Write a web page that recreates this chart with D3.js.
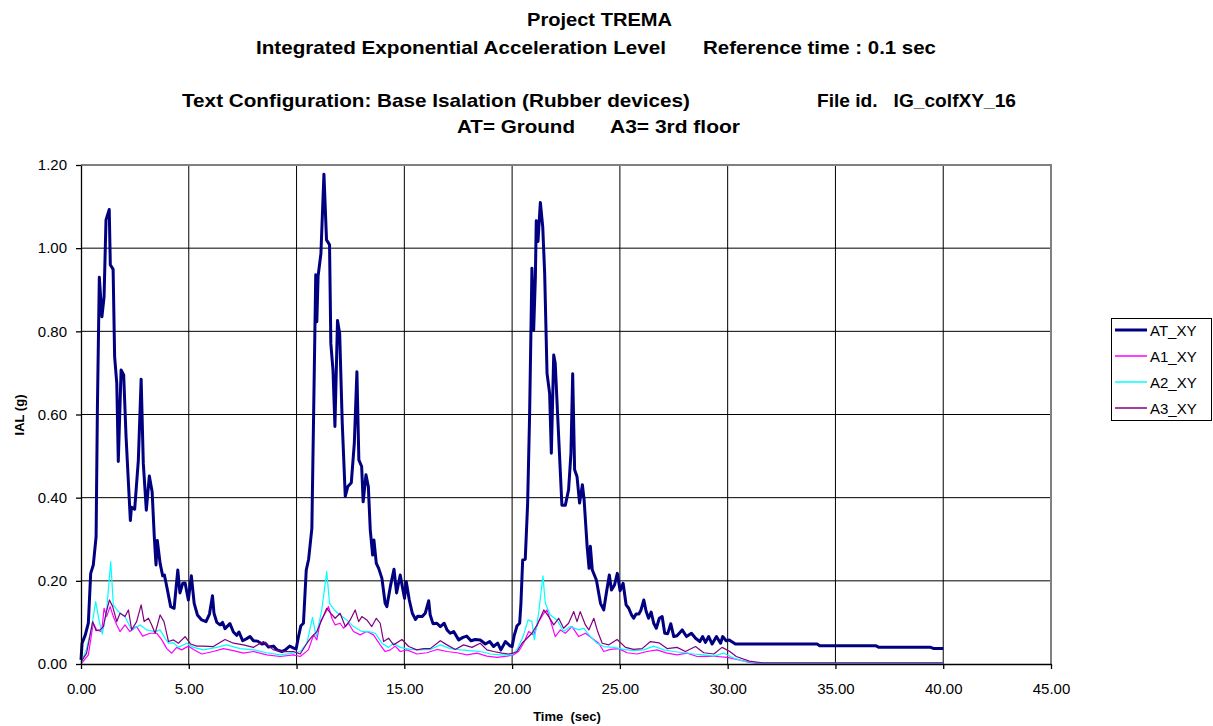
<!DOCTYPE html>
<html>
<head>
<meta charset="utf-8">
<script src="https://cdn.jsdelivr.net/npm/d3@7"></script>
<style>
  body { margin: 0; background: #fff; }
  svg { font-family: 'Liberation Sans', Arial, sans-serif; }
  .title { font-size: 19px; font-weight: bold; }
  .axis text { font-size: 15px; fill: #000; }
  .axis-title { font-size: 13px; font-weight: bold; }
  .legend text { font-size: 15px; }
</style>
</head>
<body>
<svg id="chart" width="1213" height="726"></svg>
<script>
// IAL values [time (sec), IAL (g)]
const atXY = [
	[0, 0.01], [0.05, 0.05], [0.2, 0.07], [0.34, 0.098], [0.45, 0.218], [0.57, 0.238], [0.7, 0.306], [0.76, 0.61],
	[0.85, 0.93], [0.97, 0.835], [1.07, 0.883], [1.16, 1.068], [1.31, 1.093], [1.36, 0.96], [1.49, 0.949], [1.56, 0.739],
	[1.66, 0.675], [1.73, 0.487], [1.86, 0.707], [1.98, 0.695], [2.09, 0.547], [2.29, 0.345], [2.34, 0.377], [2.49, 0.372],
	[2.66, 0.49], [2.79, 0.685], [2.89, 0.483], [3.03, 0.37], [3.17, 0.452], [3.3, 0.414], [3.4, 0.306], [3.48, 0.238],
	[3.54, 0.297], [3.67, 0.242], [3.79, 0.212], [3.87, 0.214], [4.01, 0.178], [4.16, 0.138], [4.32, 0.134], [4.49, 0.226],
	[4.59, 0.171], [4.72, 0.194], [4.83, 0.195], [4.98, 0.154], [5.12, 0.212], [5.25, 0.146], [5.4, 0.118], [5.6, 0.106],
	[5.8, 0.102], [5.96, 0.12], [6.1, 0.164], [6.17, 0.122], [6.3, 0.1], [6.45, 0.094], [6.57, 0.1], [6.68, 0.085],
	[6.91, 0.097], [7.07, 0.077], [7.22, 0.069], [7.33, 0.077], [7.5, 0.056], [7.69, 0.061], [7.84, 0.066], [8.0, 0.056],
	[8.19, 0.055], [8.39, 0.048], [8.55, 0.05], [8.7, 0.041], [8.93, 0.043], [9.09, 0.034], [9.32, 0.03], [9.48, 0.034],
	[9.68, 0.043], [9.87, 0.038], [9.98, 0.036],
	[10.09, 0.066], [10.2, 0.092], [10.32, 0.098], [10.45, 0.226], [10.56, 0.252], [10.71, 0.326], [10.79, 0.595], [10.89, 0.936],
	[10.94, 0.823], [11.0, 0.933], [11.13, 0.987], [11.27, 1.178], [11.39, 1.02], [11.53, 1.008], [11.59, 0.771], [11.69, 0.707],
	[11.78, 0.571], [11.9, 0.826], [12.0, 0.795], [12.12, 0.579], [12.26, 0.403], [12.38, 0.427], [12.54, 0.436], [12.68, 0.531],
	[12.8, 0.703], [12.89, 0.491], [13.02, 0.475], [13.09, 0.39], [13.22, 0.455], [13.33, 0.427], [13.42, 0.322], [13.53, 0.262],
	[13.59, 0.298], [13.7, 0.242], [13.81, 0.23], [13.96, 0.206], [14.11, 0.146], [14.19, 0.138], [14.35, 0.186], [14.52, 0.228],
	[14.64, 0.171], [14.81, 0.214], [14.92, 0.182], [15.01, 0.158], [15.09, 0.198], [15.23, 0.154], [15.37, 0.122], [15.52, 0.107],
	[15.62, 0.115], [15.82, 0.114], [15.97, 0.122], [16.13, 0.152], [16.2, 0.118], [16.33, 0.097], [16.51, 0.098], [16.67, 0.09],
	[16.85, 0.098], [16.98, 0.082], [17.13, 0.074], [17.29, 0.078], [17.52, 0.058], [17.72, 0.064], [17.9, 0.067], [18.09, 0.056],
	[18.29, 0.059], [18.52, 0.058], [18.76, 0.048], [18.96, 0.054], [19.14, 0.042], [19.33, 0.05], [19.48, 0.034], [19.69, 0.054],
	[19.92, 0.043], [20.0, 0.042],
	[20.1, 0.069], [20.23, 0.092], [20.35, 0.098], [20.41, 0.146], [20.49, 0.25], [20.61, 0.252], [20.72, 0.386], [20.81, 0.595],
	[20.92, 0.952], [21.0, 0.803], [21.08, 0.931], [21.12, 1.066], [21.2, 1.016], [21.31, 1.11], [21.42, 1.052], [21.51, 0.94],
	[21.62, 0.699], [21.74, 0.651], [21.82, 0.507], [21.93, 0.743], [22.0, 0.723], [22.13, 0.579], [22.31, 0.382], [22.47, 0.382],
	[22.62, 0.419], [22.73, 0.507], [22.81, 0.698], [22.9, 0.467], [23.01, 0.451], [23.13, 0.387], [23.26, 0.431], [23.34, 0.395],
	[23.48, 0.283], [23.57, 0.23], [23.63, 0.283], [23.72, 0.226], [23.91, 0.202], [24.1, 0.146], [24.25, 0.13], [24.37, 0.17],
	[24.51, 0.214], [24.61, 0.178], [24.75, 0.19], [24.88, 0.218], [25.01, 0.176], [25.15, 0.194], [25.29, 0.142], [25.41, 0.134],
	[25.54, 0.118], [25.64, 0.11], [25.75, 0.12], [25.88, 0.12], [25.98, 0.13], [26.11, 0.154], [26.22, 0.126], [26.33, 0.11],
	[26.45, 0.125], [26.57, 0.098], [26.69, 0.086], [26.83, 0.11], [26.96, 0.114], [27.08, 0.074], [27.22, 0.073], [27.36, 0.097],
	[27.5, 0.066], [27.65, 0.068], [27.89, 0.082], [28.09, 0.066], [28.32, 0.074], [28.51, 0.062], [28.71, 0.054], [28.84, 0.066],
	[28.97, 0.052], [29.12, 0.066], [29.28, 0.048], [29.48, 0.066], [29.67, 0.05], [29.77, 0.066], [29.93, 0.056], [30.07, 0.058],
	[30.36, 0.048], [34.15, 0.048], [34.27, 0.044], [36.86, 0.044], [37.02, 0.04], [39.42, 0.04], [39.57, 0.037], [40.0, 0.037]
];

const a1XY = [
	[0, 0], [0.34, 0.022], [0.57, 0.098], [0.73, 0.082], [0.96, 0.078], [1.07, 0.134], [1.19, 0.114], [1.35, 0.138],
	[1.5, 0.114], [1.66, 0.094], [1.81, 0.078], [2.04, 0.094], [2.27, 0.078], [2.58, 0.09], [2.86, 0.067], [3.2, 0.074],
	[3.51, 0.074], [3.75, 0.058], [3.98, 0.037], [4.21, 0.026], [4.44, 0.04], [4.67, 0.034], [4.98, 0.043], [5.22, 0.035],
	[5.6, 0.024], [6.14, 0.03], [6.6, 0.037], [7.07, 0.032], [7.54, 0.026], [8.0, 0.03], [8.62, 0.022], [9.24, 0.018], [9.86, 0.022],
	[10.17, 0.018], [10.55, 0.034], [10.79, 0.07], [10.94, 0.058], [11.1, 0.102], [11.33, 0.122], [11.48, 0.138], [11.64, 0.11],
	[11.79, 0.094], [12.02, 0.098], [12.18, 0.086], [12.41, 0.098], [12.64, 0.078], [12.95, 0.07], [13.26, 0.078], [13.57, 0.07],
	[13.88, 0.046], [14.11, 0.03], [14.35, 0.034], [14.58, 0.043], [14.81, 0.03], [15.12, 0.034], [15.58, 0.024], [16.05, 0.027],
	[16.51, 0.035], [16.98, 0.03], [17.44, 0.027], [17.91, 0.022], [18.37, 0.026], [18.83, 0.019], [19.3, 0.016], [19.76, 0.019],
	[20.07, 0.022],
	[20.3, 0.03], [20.53, 0.05], [20.77, 0.078], [21.0, 0.07], [21.23, 0.102], [21.47, 0.122], [21.62, 0.13], [21.77, 0.106],
	[22.0, 0.066], [22.24, 0.082], [22.47, 0.074], [22.78, 0.09], [23.09, 0.066], [23.4, 0.074], [23.71, 0.062], [24.02, 0.05],
	[24.25, 0.03], [24.56, 0.035], [24.95, 0.037], [25.33, 0.027], [25.79, 0.024], [26.26, 0.03], [26.72, 0.034], [27.19, 0.026],
	[27.65, 0.022], [28.12, 0.026], [28.58, 0.018], [29.05, 0.019], [29.51, 0.018], [29.98, 0.016], [30.52, 0.01], [31.0, 0.004],
	[31.5, 0.001], [40.0, 0.001]
];

const a2XY = [
	[0, 0], [0.26, 0.037], [0.5, 0.09], [0.68, 0.15], [0.85, 0.102], [0.99, 0.072], [1.19, 0.13], [1.38, 0.246],
	[1.5, 0.142], [1.73, 0.126], [2.04, 0.114], [2.35, 0.082], [2.74, 0.094], [3.05, 0.082], [3.44, 0.078], [3.67, 0.082],
	[3.9, 0.062], [4.06, 0.05], [4.29, 0.051], [4.52, 0.04], [4.91, 0.05], [5.22, 0.04], [5.68, 0.034], [6.3, 0.04],
	[6.76, 0.046], [7.38, 0.037], [8.0, 0.034], [8.62, 0.027], [9.24, 0.022], [9.86, 0.026],
	[10.17, 0.03], [10.48, 0.05], [10.74, 0.112], [10.91, 0.066], [11.17, 0.13], [11.4, 0.222], [11.53, 0.146], [11.75, 0.13],
	[12.02, 0.118], [12.33, 0.106], [12.64, 0.09], [13.03, 0.078], [13.34, 0.078], [13.65, 0.074], [13.96, 0.05], [14.27, 0.04],
	[14.5, 0.05], [14.81, 0.04], [15.27, 0.035], [15.74, 0.034], [16.2, 0.035], [16.67, 0.046], [17.13, 0.037], [17.6, 0.034],
	[18.06, 0.032], [18.52, 0.03], [18.99, 0.024], [19.45, 0.022], [19.99, 0.022],
	[20.23, 0.035], [20.51, 0.066], [20.74, 0.106], [20.92, 0.102], [21.03, 0.058], [21.23, 0.122], [21.43, 0.212], [21.54, 0.146],
	[21.77, 0.118], [22.08, 0.106], [22.39, 0.078], [22.7, 0.09], [23.09, 0.082], [23.32, 0.086], [23.63, 0.066], [23.94, 0.05],
	[24.25, 0.042], [24.71, 0.04], [25.17, 0.035], [25.64, 0.032], [26.1, 0.034], [26.57, 0.043], [27.04, 0.034], [27.5, 0.03],
	[27.96, 0.027], [28.43, 0.024], [28.89, 0.022], [29.36, 0.019], [29.82, 0.026], [30.29, 0.014], [30.8, 0.006], [31.5, 0.002],
	[40.0, 0.002]
];

const a3XY = [
	[0, 0.005], [0.26, 0.026], [0.54, 0.102], [0.7, 0.08], [0.88, 0.082], [1.04, 0.09], [1.16, 0.122], [1.32, 0.154],
	[1.47, 0.138], [1.66, 0.102], [1.81, 0.122], [2.04, 0.114], [2.2, 0.13], [2.35, 0.082], [2.58, 0.102], [2.79, 0.142],
	[2.93, 0.102], [3.13, 0.11], [3.28, 0.094], [3.44, 0.074], [3.67, 0.118], [3.85, 0.102], [4.06, 0.054], [4.29, 0.058],
	[4.52, 0.05], [4.83, 0.066], [5.09, 0.048], [5.37, 0.043], [5.68, 0.043], [6.14, 0.042], [6.68, 0.059], [7.07, 0.05],
	[7.54, 0.046], [8.0, 0.04], [8.46, 0.054], [8.93, 0.034], [9.4, 0.03], [9.86, 0.03],
	[10.17, 0.024], [10.48, 0.05], [10.71, 0.066], [10.94, 0.078], [11.17, 0.106], [11.4, 0.134], [11.59, 0.122], [11.79, 0.11],
	[12.02, 0.122], [12.26, 0.09], [12.49, 0.106], [12.72, 0.13], [12.88, 0.102], [13.03, 0.114], [13.26, 0.106], [13.49, 0.09],
	[13.7, 0.11], [13.88, 0.098], [14.04, 0.054], [14.27, 0.062], [14.5, 0.046], [14.89, 0.059], [15.2, 0.042], [15.58, 0.034],
	[15.89, 0.037], [16.2, 0.037], [16.67, 0.056], [16.98, 0.046], [17.36, 0.035], [17.75, 0.046], [18.14, 0.04], [18.52, 0.05],
	[18.83, 0.034], [19.14, 0.03], [19.53, 0.026], [19.84, 0.024], [20.04, 0.026],
	[20.23, 0.03], [20.46, 0.05], [20.69, 0.062], [20.92, 0.074], [21.16, 0.094], [21.47, 0.13], [21.7, 0.114], [21.93, 0.094],
	[22.16, 0.11], [22.39, 0.086], [22.62, 0.098], [22.86, 0.126], [23.01, 0.102], [23.16, 0.126], [23.4, 0.094], [23.56, 0.082],
	[23.79, 0.11], [23.97, 0.078], [24.18, 0.05], [24.49, 0.046], [24.87, 0.059], [25.26, 0.04], [25.64, 0.035], [26.03, 0.037],
	[26.42, 0.054], [26.81, 0.051], [27.19, 0.037], [27.65, 0.04], [28.04, 0.03], [28.51, 0.042], [28.89, 0.027], [29.36, 0.024],
	[29.74, 0.04], [30.1, 0.03], [30.4, 0.018], [31.0, 0.007], [31.6, 0.003], [40.0, 0.003]
];

const seriesNames = ['AT_XY', 'A1_XY', 'A2_XY', 'A3_XY'];
const seriesData = [atXY, a1XY, a2XY, a3XY];
const xTicks = [0, 5, 10, 15, 20, 25, 30, 35, 40, 45];
const yTicks = [0, 0.2, 0.4, 0.6, 0.8, 1.0, 1.2];

const colors = ['#000080', '#ff00ff', '#00ffff', '#800080'];
const widths = [3, 1.2, 1.2, 1.2];

const svg = d3.select('#chart');

const plotLeft = 81, plotRight = 1051, plotTop = 165, plotBottom = 664;

const x = d3.scaleLinear().domain([0, 45]).range([plotLeft, plotRight]);
const y = d3.scaleLinear().domain([0, 1.2]).range([plotBottom, plotTop]);

// titles (widths, glyphs a bit condensed)
const titles = [
	{ text: 'Project TREMA', x: 527, y: 26, w: 145 },
	{ text: 'Integrated Exponential Acceleration Level', x: 256, y: 54, w: 410 },
	{ text: 'Reference time : 0.1 sec', x: 703, y: 54, w: 233 },
	{ text: 'Text Configuration: Base Isalation (Rubber devices)', x: 182, y: 107, w: 508 },
	{ text: 'File id.\u00a0\u00a0 IG_colfXY_16', x: 817, y: 107, w: 199 },
	{ text: 'AT= Ground', x: 457, y: 133, w: 118 },
	{ text: 'A3= 3rd floor', x: 610, y: 133, w: 130 }
];
svg.selectAll('.title')
	.data(titles)
	.join('text')
	.attr('class', 'title')
	.attr('x', (d) => d.x)
	.attr('y', (d) => d.y)
	.attr('textLength', (d) => d.w)
	.attr('lengthAdjust', 'spacingAndGlyphs')
	.text((d) => d.text);

// grid
svg.append('g')
	.selectAll('line')
	.data(yTicks.slice(1, -1))
	.join('line')
	.attr('x1', plotLeft).attr('x2', plotRight)
	.attr('y1', (d) => y(d)).attr('y2', (d) => y(d))
	.attr('stroke', '#000').attr('stroke-width', 1);

svg.append('g')
	.selectAll('line')
	.data(xTicks.slice(1, -1))
	.join('line')
	.attr('x1', (d) => x(d)).attr('x2', (d) => x(d))
	.attr('y1', plotTop).attr('y2', plotBottom)
	.attr('stroke', '#000').attr('stroke-width', 1);

// plot border top / right (gray)
svg.append('path')
	.attr('d', `M${plotLeft},${plotTop}H${plotRight}V${plotBottom}`)
	.attr('fill', 'none')
	.attr('stroke', '#808080')
	.attr('stroke-width', 2);

// series
const line = d3.line().x((d) => x(d[0])).y((d) => y(d[1]));
svg.append('g')
	.selectAll('path')
	.data(seriesData)
	.join('path')
	.attr('d', line)
	.attr('fill', 'none')
	.attr('stroke', (d, i) => colors[i])
	.attr('stroke-width', (d, i) => widths[i])
	.attr('stroke-linejoin', 'round');

// axes
svg.append('g')
	.attr('class', 'axis')
	.attr('transform', `translate(0,${plotBottom})`)
	.call(d3.axisBottom(x).tickValues(xTicks).tickFormat(d3.format('.2f')).tickSize(5).tickSizeOuter(0).tickPadding(14));

svg.append('g')
	.attr('class', 'axis')
	.attr('transform', `translate(${plotLeft},0)`)
	.call(d3.axisLeft(y).tickValues(yTicks).tickFormat(d3.format('.2f')).tickSize(5).tickSizeOuter(0).tickPadding(9));

svg.selectAll('.axis path, .axis line').attr('stroke', '#000').attr('stroke-width', 1.3);

// axis titles
svg.append('text')
	.attr('class', 'axis-title')
	.attr('x', 567)
	.attr('y', 721)
	.attr('text-anchor', 'middle')
	.text('Time\u00a0 (sec)');

svg.append('text')
	.attr('class', 'axis-title')
	.attr('transform', 'translate(24,415) rotate(-90)')
	.attr('text-anchor', 'middle')
	.text('IAL (g)');

// legend
const legend = svg.append('g').attr('class', 'legend');
legend.append('rect')
	.attr('x', 1111.5).attr('y', 318.5)
	.attr('width', 100).attr('height', 102)
	.attr('fill', '#fff')
	.attr('stroke', '#000')
	.attr('stroke-width', 1);

const legendY = d3.scalePoint().domain(seriesNames).range([330, 408]);

legend.selectAll('line')
	.data(seriesNames)
	.join('line')
	.attr('x1', 1115).attr('x2', 1147)
	.attr('y1', (d) => legendY(d)).attr('y2', (d) => legendY(d))
	.attr('stroke', (d, i) => colors[i])
	.attr('stroke-width', (d, i) => (i === 0 ? 3 : 1.5));

legend.selectAll('text')
	.data(seriesNames)
	.join('text')
	.attr('x', 1150)
	.attr('y', (d) => legendY(d) + 5.5)
	.text((d) => d);
</script>
</body>
</html>
